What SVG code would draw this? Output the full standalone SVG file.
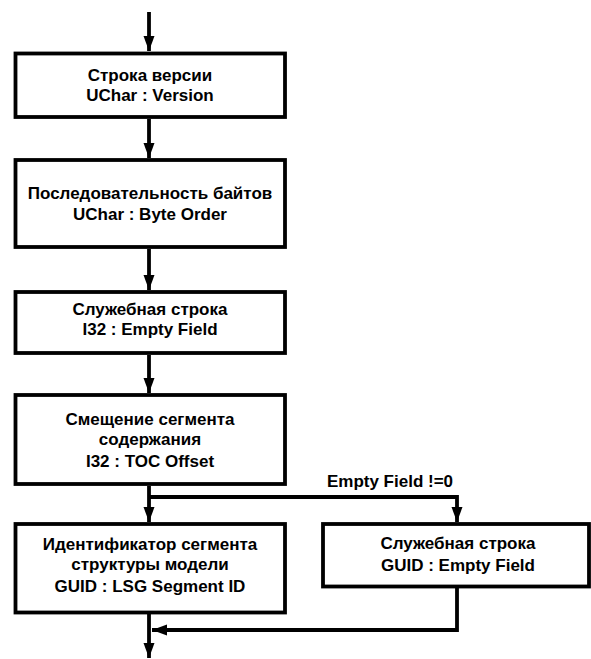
<svg xmlns="http://www.w3.org/2000/svg" width="591" height="659" viewBox="0 0 591 659">
  <style>
    .box { fill: #ffffff; stroke: #000000; stroke-width: 3.8; }
    .t { font-family: "Liberation Sans", Arial, sans-serif; font-size: 17px; font-weight: bold; fill: #000000; text-anchor: middle; }
    .c { fill: none; stroke: #000000; stroke-width: 3.8; }
  </style>
  <defs>
    <marker id="arr" markerUnits="userSpaceOnUse" markerWidth="16" markerHeight="12" refX="15" refY="6" orient="auto">
      <path d="M0,0.5 L15,6 L0,11.5 z" fill="#000000"/>
    </marker>
  </defs>
  <rect width="591" height="659" fill="#ffffff"/>
  <g id="connectors">
    <path class="c" d="M149,12 V51" marker-end="url(#arr)"/>
    <path class="c" d="M149,119 V158" marker-end="url(#arr)"/>
    <path class="c" d="M149,249 V290" marker-end="url(#arr)"/>
    <path class="c" d="M149,355 V393" marker-end="url(#arr)"/>
    <path class="c" d="M149,486 V522" marker-end="url(#arr)"/>
    <path class="c" d="M149,497 H457 V522" marker-end="url(#arr)"/>
    <path class="c" d="M457,588 V630 H152" marker-end="url(#arr)"/>
    <path class="c" d="M149,614 V658" marker-end="url(#arr)"/>
    <text class="t" x="390" y="487">Empty Field !=0</text>
  </g>
  <g id="n1">
    <rect class="box" x="15.5" y="53.5" width="269.5" height="63.5"/>
    <text class="t" x="150" y="81">Строка версии</text>
    <text class="t" x="150" y="100.5">UChar : Version</text>
  </g>
  <g id="n2">
    <rect class="box" x="15.5" y="160" width="269.5" height="87"/>
    <text class="t" x="150" y="199">Последовательность байтов</text>
    <text class="t" x="150" y="220">UChar : Byte Order</text>
  </g>
  <g id="n3">
    <rect class="box" x="15.5" y="292" width="269.5" height="61"/>
    <text class="t" x="150" y="315">Служебная строка</text>
    <text class="t" x="150" y="335">I32 : Empty Field</text>
  </g>
  <g id="n4">
    <rect class="box" x="15.5" y="395" width="269.5" height="89"/>
    <text class="t" x="150" y="425">Смещение сегмента</text>
    <text class="t" x="150" y="445">содержания</text>
    <text class="t" x="150" y="467">I32 : TOC Offset</text>
  </g>
  <g id="n5">
    <rect class="box" x="15.5" y="524" width="269.5" height="88.5"/>
    <text class="t" x="150" y="550">Идентификатор сегмента</text>
    <text class="t" x="150" y="570">структуры модели</text>
    <text class="t" x="150" y="592">GUID : LSG Segment ID</text>
  </g>
  <g id="n6">
    <rect class="box" x="323" y="524" width="266" height="62.5"/>
    <text class="t" x="458" y="549">Служебная строка</text>
    <text class="t" x="458" y="571">GUID : Empty Field</text>
  </g>
</svg>
